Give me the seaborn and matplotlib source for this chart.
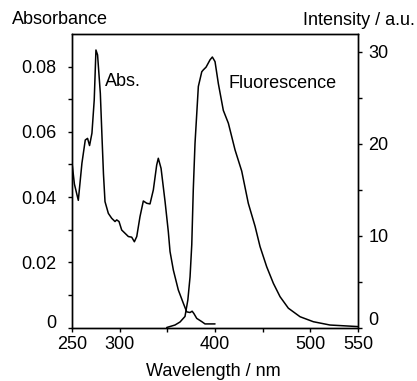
import matplotlib
matplotlib.use("Agg")
import matplotlib.pyplot as plt
import matplotlib.transforms as mtransforms
import seaborn as sns
import pandas as pd

# ---- data ----
abs_wl = [250, 252.5, 256.6, 260.4, 263.9, 266.3, 268.4, 270.9, 273.3, 275.1,
          276.8, 279.7, 281.5, 283.0, 284.6, 288.1, 291.6, 295.1, 296.9, 299.3,
          302.1, 305.6, 309.1, 312.6, 315.4, 317.9, 321.3, 324.8, 328.4, 331.8,
          335.3, 338.8, 340.5, 343.4, 347.6, 351.0, 352.8, 356.3, 361.5, 366.8,
          370.3, 373.8, 376.0, 377.8, 380.8, 386.1, 389.5, 400.0]
abs_val = [0.0505, 0.0440, 0.0390, 0.0504, 0.0575, 0.0580, 0.0558, 0.0596, 0.0698, 0.0851,
           0.0836, 0.0718, 0.0580, 0.0470, 0.0386, 0.0350, 0.0335, 0.0325, 0.0330, 0.0325,
           0.0299, 0.0289, 0.0279, 0.0277, 0.0263, 0.0279, 0.0340, 0.0388, 0.0381, 0.0379,
           0.0422, 0.0498, 0.0519, 0.0488, 0.0386, 0.0294, 0.0233, 0.0176, 0.0115, 0.0074,
           0.0048, 0.0046, 0.0050, 0.0043, 0.0028, 0.0018, 0.0011, 0.0011]

fl_wl = [349.3, 358.0, 363.3, 368.5, 371.5, 373.8, 375.6, 377.2, 379.0, 382.5,
         386.1, 387.7, 390.6, 394.8, 397.2, 400.0, 403.5, 408.7, 414.0, 421.0,
         428.0, 434.9, 442.0, 447.2, 454.2, 461.2, 468.2, 476.9, 489.2, 503.1,
         520.6, 550.0]
fl_val = [0.0, 0.27, 0.6, 1.2, 3.0, 5.5, 9.0, 15.0, 20.0, 26.2,
          27.8, 28.0, 28.3, 29.1, 29.4, 28.9, 26.5, 23.6, 22.2, 19.3,
          17.0, 13.5, 11.0, 8.8, 6.6, 4.8, 3.35, 2.1, 1.17, 0.63,
          0.27, 0.1]

x_ticks = [250, 300, 350, 400, 450, 500, 550]
x_labels = ["250", "300", "", "400", "", "500", "550"]
y1_ticks = [0, 0.01, 0.02, 0.03, 0.04, 0.05, 0.06, 0.07, 0.08]
y1_labels = ["0", "", "0.02", "", "0.04", "", "0.06", "", "0.08"]
y2_ticks = [0, 5, 10, 15, 20, 25, 30]
y2_labels = ["0", "", "10", "", "20", "", "30"]

FS = 13

sns.set_theme(style="ticks")
plt.rcParams["font.family"] = ["Liberation Sans", "DejaVu Sans"]
plt.rcParams["font.size"] = FS
plt.rcParams["text.color"] = "black"
plt.rcParams["axes.labelcolor"] = "black"
plt.rcParams["xtick.color"] = "black"
plt.rcParams["ytick.color"] = "black"

abs_df = pd.DataFrame({"wl": abs_wl, "A": abs_val})
fl_df = pd.DataFrame({"wl": fl_wl, "I": fl_val})

fig = plt.figure(figsize=(4.17, 3.81), dpi=100)
ax = fig.add_axes([0.1727, 0.1404, 0.6859, 0.7703])
ax2 = ax.twinx()

sns.lineplot(data=abs_df, x="wl", y="A", ax=ax, color="black", linewidth=1.1)
sns.lineplot(data=fl_df, x="wl", y="I", ax=ax2, color="black", linewidth=1.1)

ax.set_xlim(250, 550)
ax.set_ylim(0, 0.0900)
ax2.set_ylim(0, 31.9)

ax.set_xticks(x_ticks)
ax.set_xticklabels(x_labels)
ax.set_yticks(y1_ticks)
ax.set_yticklabels(y1_labels)
ax2.set_yticks(y2_ticks)
ax2.set_yticklabels(y2_labels)

for a in (ax, ax2):
    for s in a.spines.values():
        s.set_linewidth(1.0)
        s.set_color("black")
ax.tick_params(axis="both", direction="out", length=3, width=1.0,
               colors="black", labelcolor="black", labelsize=FS)
ax.tick_params(axis="y", pad=8)
ax.tick_params(axis="x", pad=3)
ax2.tick_params(axis="y", direction="out", length=3, width=1.0,
                colors="black", labelcolor="black", labelsize=FS, pad=4.5)

ax.set_xlabel("")
ax.set_ylabel("")
ax2.set_ylabel("")

# zero labels sit a little above their ticks in the reference
ax.get_yticklabels()[0].set_transform(
    ax.get_yticklabels()[0].get_transform()
    + mtransforms.ScaledTranslation(0, 6 / 100, fig.dpi_scale_trans))
ax2.get_yticklabels()[0].set_transform(
    ax2.get_yticklabels()[0].get_transform()
    + mtransforms.ScaledTranslation(0, 9 / 100, fig.dpi_scale_trans))

ax.text(284.6, 0.0754, "Abs.", ha="left", va="center", fontsize=FS)
ax.text(414, 0.0749, "Fluorescence", ha="left", va="center", fontsize=FS)

fig.text(0.1439, 0.950, "Absorbance", ha="center", va="center", fontsize=FS)
fig.text(0.861, 0.9475, "Intensity / a.u.", ha="center", va="center", fontsize=FS)
fig.text(0.5116, 0.026, "Wavelength / nm", ha="center", va="center", fontsize=FS)

fig.savefig("out.png", dpi=100)
